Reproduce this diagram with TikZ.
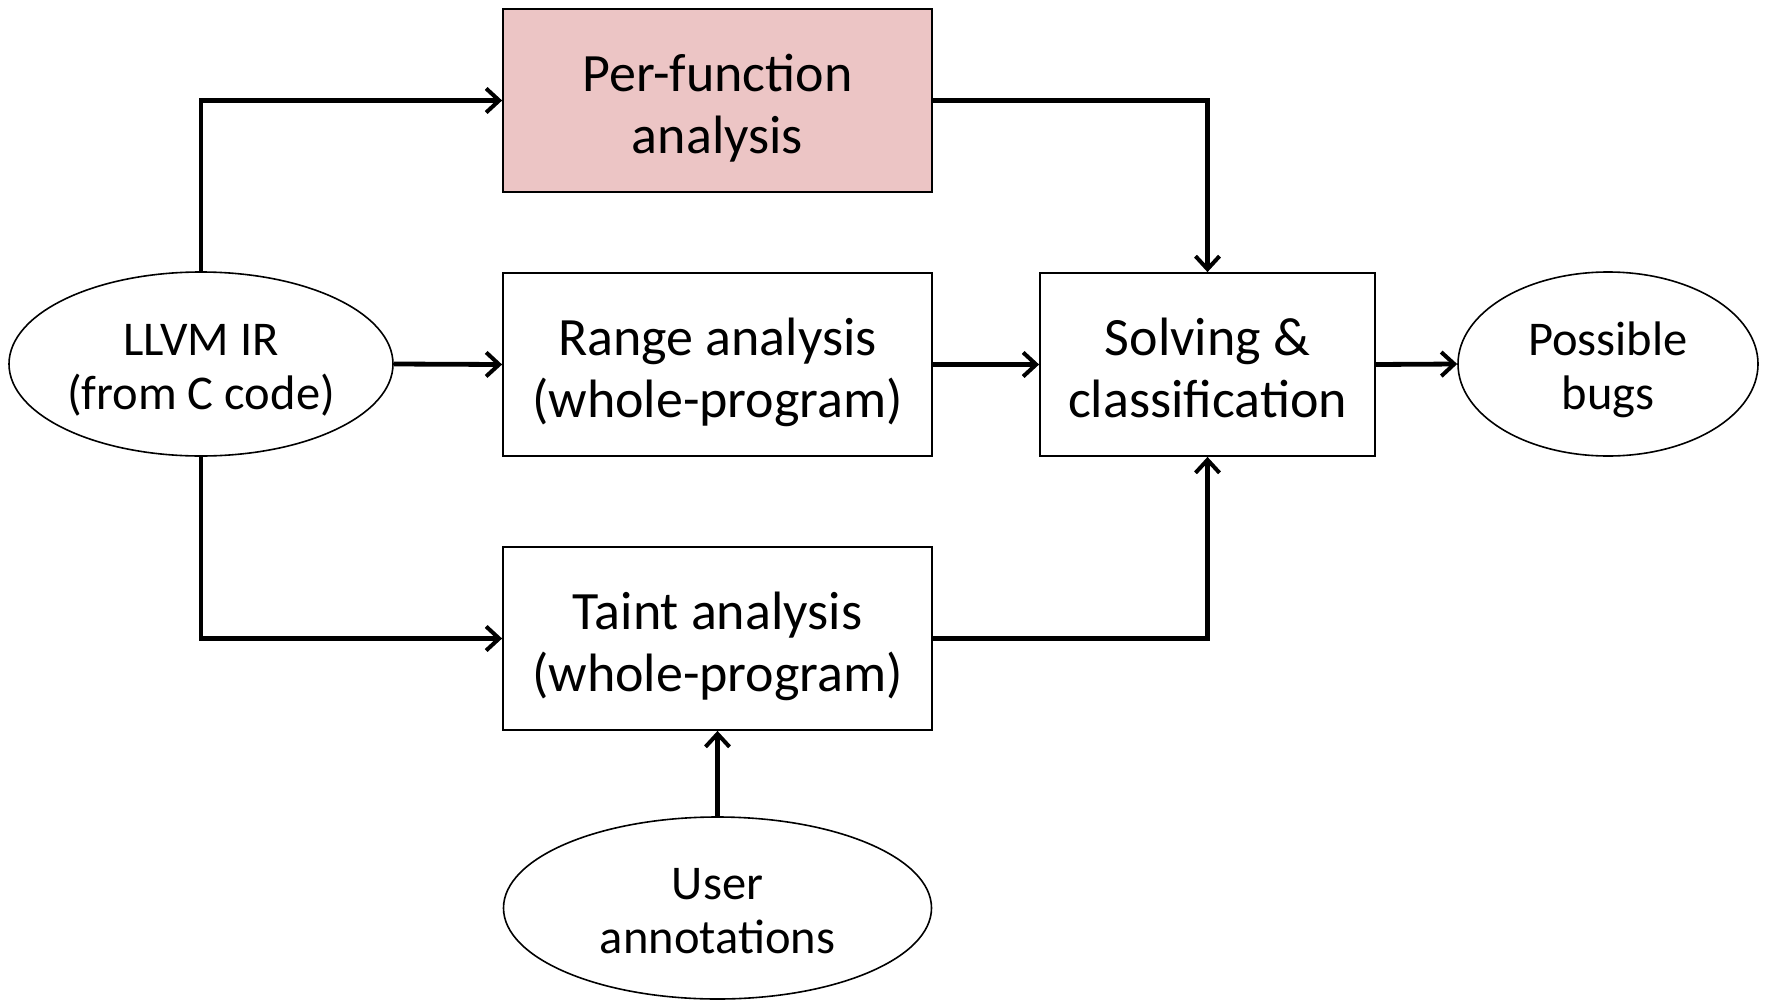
\documentclass[tikz,border=0pt]{standalone}
\usepackage{fontspec}
\setmainfont{Carlito}
\usetikzlibrary{shapes.geometric, arrows.meta}
\definecolor{perfill}{HTML}{ECC5C5}

\tikzset{
  stage/.style={draw=black, line width=1.8pt, rectangle, align=center, inner sep=0pt,
    text height=105pt, text depth=0pt,
    minimum width=429pt, minimum height=183pt, font=\fontsize{54}{62}\selectfont},
  blob/.style={draw=black, line width=1.6pt, ellipse, align=center, inner sep=0pt,
    text height=90pt, text depth=0pt,
    minimum height=184pt, font=\fontsize{48.5}{54}\selectfont},
  flow/.style={line width=4.8pt, -{Straight Barb[length=13pt, width=24pt, line width=4pt]}}
}

\begin{document}
\begin{tikzpicture}[x=1pt, y=-1pt]
        \useasboundingbox (0,0) rectangle (1769,1001);

        % boxes
        \node[stage, fill=perfill] (perfun) at (717.5,100.5) {Per-function\\analysis};
        \node[stage] (range) at (717.5,364.5) {Range analysis\\(whole-program)};
        \node[stage] (taint) at (717.5,638.5) {Taint analysis\\(whole-program)};
        \node[stage, minimum width=335pt] (solve) at (1207.5,364.5) {Solving \&\\classification};

        % ellipses
        \node[blob, minimum width=384pt] (llvm) at (201,364) {LLVM IR\\(from C code)};
        \node[blob, minimum width=300pt] (bugs) at (1608,364) {Possible\\bugs};
        \node[blob, minimum width=428pt, minimum height=182pt] (user) at (717.5,908) {User\\annotations};

        % arrows
        \draw[flow] (llvm.north) |- (perfun.west);
        \draw[flow] (llvm.south) |- (taint.west);
        \draw[flow] (llvm.east) -- (range.west);
        \draw[flow] (range.east) -- (solve.west);
        \draw[flow] (perfun.east) -| (solve.north);
        \draw[flow] (taint.east) -| (solve.south);
        \draw[flow] (user.north) -- (taint.south);
        \draw[flow] (solve.east) -- (bugs.west);
\end{tikzpicture}
\end{document}
